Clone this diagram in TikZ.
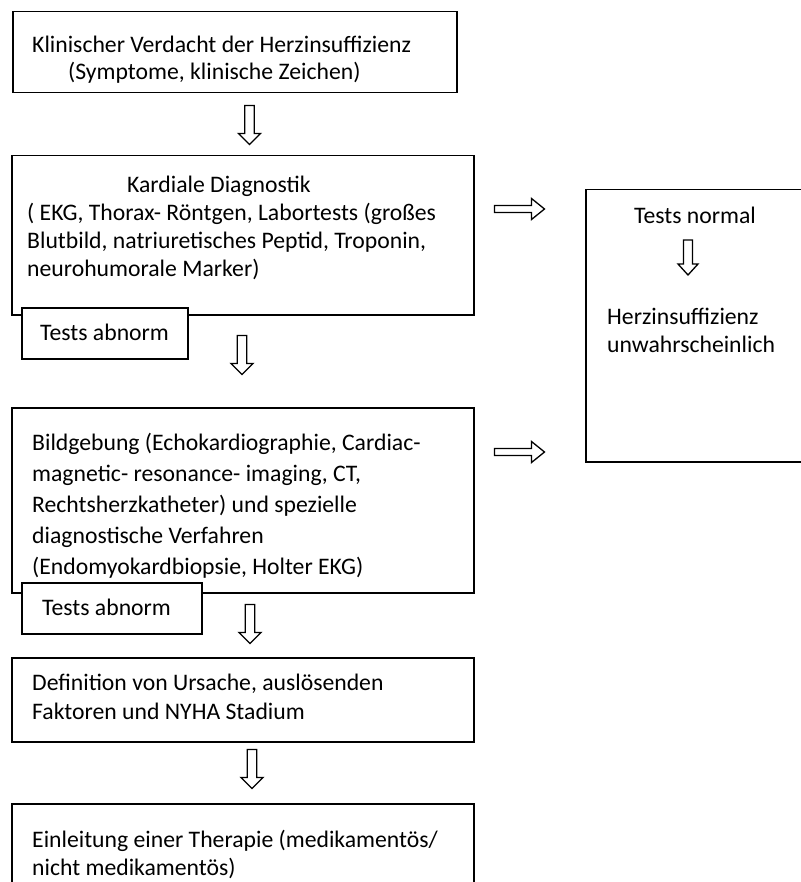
\documentclass[tikz,border=0pt]{standalone}
\usepackage{fontspec}
\setmainfont{Carlito}
\usetikzlibrary{calc}
\begin{document}
\begin{tikzpicture}[x=1pt,y=-1pt,
  box/.style={draw, line width=1.5pt, rectangle, inner sep=0pt, anchor=north west},
  tbox/.style={box, fill=white},
  txt/.style={inner sep=0pt, anchor=north west, align=left, font=\fontsize{23.7}{#1}\selectfont},
  txt/.default=27.5,
  lbl/.style={inner sep=0pt, anchor=base west, font=\fontsize{23.7}{27.5}\selectfont},
  barrow/.style={draw, line width=1.3pt, fill=white, miter limit=10},
  pics/downarr/.style={code={\draw[barrow] (-4.75,0) -- (4.75,0) -- (4.75,28) -- (11,28) -- (0,39) -- (-11,28) -- (-4.75,28) -- cycle;}},
  pics/smalldown/.style={code={\draw[barrow] (-4.5,0) -- (4.5,0) -- (4.5,24) -- (10,24) -- (0,35) -- (-10,24) -- (-4.5,24) -- cycle;}},
  pics/rightarr/.style={code={\draw[barrow] (0,-3.5) -- (37,-3.5) -- (37,-10.5) -- (50,0) -- (37,10.5) -- (37,3.5) -- (0,3.5) -- cycle;}},
]
\useasboundingbox (0,0) rectangle (800,882);

% main boxes
\node[box, minimum width=444pt, minimum height=81pt] (b1) at (12,11) {};
\node[box, minimum width=462pt, minimum height=159pt] (b2) at (11,155) {};
\node[box, minimum width=462pt, minimum height=185pt] (b3) at (11,407) {};
\node[box, minimum width=462pt, minimum height=84pt] (b4) at (11,657) {};
\node[box, minimum width=462pt, minimum height=120pt] (b5) at (11,803) {};
\node[box, minimum width=240pt, minimum height=272pt] (rb) at (585,189) {};

% texts
\node[txt=27] (t1) at (32,33.1) {\strut Klinischer Verdacht der Herzinsuffizienz\\\hspace*{36pt}(Symptome, klinische Zeichen)};
\node[txt=28] (t2) at (27,172.4) {\strut\hspace*{100pt}Kardiale Diagnostik\\( EKG, Thorax- Röntgen, Labortests (großes\\Blutbild, natriuretisches Peptid, Troponin,\\neurohumorale Marker)};
\node[txt=31] (t3) at (32,428.3) {\strut Bildgebung (Echokardiographie, Cardiac-\\magnetic- resonance- imaging, CT,\\Rechtsherzkatheter) und spezielle\\diagnostische Verfahren\\(Endomyokardbiopsie, Holter EKG)};
\node[txt=29] (t4) at (32,669.7) {\strut Definition von Ursache, auslösenden\\Faktoren und NYHA Stadium};
\node[txt=28] (t5) at (32,827.4) {\strut Einleitung einer Therapie (medikamentös/\\nicht medikamentös)};

% right box content
\node[lbl, anchor=base] (tn) at (695,224) {Tests normal};
\node[txt=28] (hu) at (607,304.75) {\strut Herzinsuffizienz\\unwahrscheinlich};
\pic at ($(rb.north west)+(103,51)$) {smalldown};

% "Tests abnorm" boxes
\node[tbox, minimum width=166pt, minimum height=51pt] (ta1) at (21,307) {};
\node[lbl] at ($(ta1.north west)+(19,33)$) {Tests abnorm};
\node[tbox, minimum width=180pt, minimum height=51pt] (ta2) at (21,582) {};
\node[lbl] at ($(ta2.north west)+(21,33)$) {Tests abnorm};

% block arrows
\pic at ($(b1.south west)+(237.5,12)$) {downarr};
\pic at ($(b2.south west)+(231,20)$) {downarr};
\pic at ($(b3.south west)+(239,11)$) {downarr};
\pic at ($(b4.south west)+(241,7)$) {downarr};
\pic at ($(b2.north east)+(20,54)$) {rightarr};
\pic at ($(b3.north east)+(20,45)$) {rightarr};
\end{tikzpicture}
\end{document}
